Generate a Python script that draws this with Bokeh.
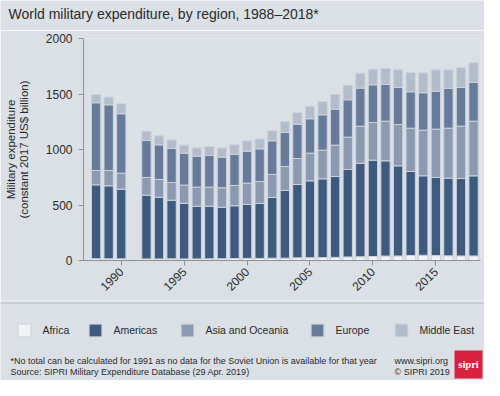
import math
from bokeh.plotting import figure
from bokeh.layouts import column
from bokeh.models import (ColumnDataSource, Range1d, FixedTicker, Label, Legend, LegendItem,
                          BoxAnnotation)
from bokeh.embed import file_html
from bokeh.resources import INLINE

# ---------------- data (constant 2017 US$ billion) ----------------
years = [1988, 1989, 1990, 1992, 1993, 1994, 1995, 1996, 1997, 1998, 1999, 2000, 2001, 2002,
         2003, 2004, 2005, 2006, 2007, 2008, 2009, 2010, 2011, 2012, 2013, 2014, 2015, 2016,
         2017, 2018]
africa = [16, 15, 15, 14, 14, 15, 14, 14, 15, 16, 18, 19, 19, 21, 21, 24, 25, 26, 28, 32, 34,
          36, 40, 41, 45, 47, 44, 42, 41, 41]
americas = [666, 658, 628, 574, 556, 528, 502, 475, 474, 464, 475, 486, 495, 547, 610, 661, 693,
            710, 729, 788, 843, 868, 858, 812, 757, 716, 704, 700, 698, 722]
asia_oceania = [129, 138, 144, 160, 160, 160, 163, 172, 172, 175, 183, 192, 198, 207, 216, 234,
                249, 258, 282, 291, 333, 339, 357, 372, 390, 411, 435, 450, 471, 492]
europe = [610, 592, 535, 333, 312, 306, 288, 279, 285, 276, 282, 288, 294, 303, 306, 309, 310,
          318, 324, 337, 343, 340, 331, 334, 328, 337, 340, 358, 349, 349]
middle_east = [75, 69, 93, 84, 81, 78, 72, 75, 81, 84, 84, 93, 90, 90, 99, 105, 113, 120, 133,
               131, 135, 141, 144, 159, 174, 180, 195, 168, 180, 177]

regions = ["africa", "americas", "asia_oceania", "europe", "middle_east"]
region_labels = ["Africa", "Americas", "Asia and Oceania", "Europe", "Middle East"]
colors = ["#f1f3f6", "#3e5a7e", "#8a9ab0", "#667b9a", "#b3bcca"]
x_ticks = [1990, 1995, 2000, 2005, 2010, 2015]
y_ticks = [0, 500, 1000, 1500, 2000]

source = ColumnDataSource(dict(year=years, africa=africa, americas=americas,
                               asia_oceania=asia_oceania, europe=europe,
                               middle_east=middle_east))

BG = "#dbe0e7"
FONT = "Liberation Sans"
TXT = "#2a2a2a"
W = 484


def panel(y0, y1):
    """A strip whose frame fills the canvas; data coords = page pixels."""
    f = figure(width=W, height=y1 - y0, output_backend="svg", toolbar_location=None,
               x_axis_type=None, y_axis_type=None,
               x_range=Range1d(0, W), y_range=Range1d(y1, y0),
               min_border=0, min_border_left=0, min_border_right=0,
               min_border_top=0, min_border_bottom=0, frame_align=False)
    f.grid.visible = False
    f.background_fill_color = BG
    f.border_fill_color = BG
    f.outline_line_color = None
    return f


# ---------------- title strip (y 0..30) ----------------
top = panel(0, 30)
top.add_layout(Label(x=8, y=13, text="World military expenditure, by region, 1988\u20132018*",
                     text_font=FONT, text_font_size="14px", text_color=TXT,
                     text_baseline="middle"))

# ---------------- main chart (y 30..300) ----------------
p = figure(width=W, height=270, output_backend="svg", toolbar_location=None,
           x_range=Range1d(1987.0, 2018.55), y_range=Range1d(0, 2000),
           min_border_left=83, min_border_right=4, min_border_top=8, min_border_bottom=40,
           frame_align=False)
p.background_fill_color = BG
p.border_fill_color = BG
p.outline_line_color = None
p.grid.visible = False

renderers = p.vbar_stack(regions, x="year", width=0.74, source=source, color=colors,
                         line_color="#ccd3dc", line_width=1)

for ax in (p.xaxis[0], p.yaxis[0]):
    ax.axis_line_color = "#8c929a"
    ax.major_tick_line_color = "#8c929a"
    ax.minor_tick_line_color = None
    ax.major_tick_out = 5
    ax.major_tick_in = 0
    ax.major_label_text_font = FONT
    ax.major_label_text_font_size = "12px"
    ax.major_label_text_color = TXT
p.xaxis.ticker = FixedTicker(ticks=x_ticks)
p.yaxis.ticker = FixedTicker(ticks=y_ticks)
p.xaxis.major_label_orientation = math.pi / 4
p.yaxis.major_label_standoff = 6
p.xaxis.major_label_standoff = 4
p.yaxis.axis_label = "Military expenditure\n(constant 2017 US$ billion)"
p.yaxis.axis_label_text_font = FONT
p.yaxis.axis_label_text_font_size = "11.5px"
p.yaxis.axis_label_text_font_style = "normal"
p.yaxis.axis_label_text_color = TXT
p.yaxis.axis_label_text_line_height = 1.1
p.yaxis.axis_label_standoff = 13

# ---------------- legend + footer (y 300..380) ----------------
bot = panel(300, 380)
bot.add_layout(BoxAnnotation(left=0, right=W, top=302, bottom=303.2, fill_color="#bcc3cc",
                             fill_alpha=1, line_color=None))

# legend proxies: same data, but they fall outside this strip's pixel ranges
leg_x = [18, 89, 181, 311, 395]
for reg, col, lab, lx in zip(regions, colors, region_labels, leg_x):
    r = bot.vbar(x="year", top=reg, width=0.7, source=source,
                 fill_color=col, line_color="#ccd3dc", line_width=1)
    lg = Legend(items=[LegendItem(label=lab, renderers=[r])],
                location=(lx - 1.6, 380 - 338),
                orientation="horizontal", glyph_width=16, glyph_height=16,
                label_standoff=10, padding=0, margin=0, border_line_color=None,
                background_fill_alpha=0, label_text_font=FONT,
                label_text_font_size="10.5px", label_text_color=TXT,
                label_height=16)
    bot.add_layout(lg, "center")


def foot(text, x, y, size="9px", color=TXT, align="left", style="normal",
         font=FONT):
    bot.add_layout(Label(x=x, y=y, text=text, text_font=font, text_font_size=size,
                         text_color=color, text_align=align, text_baseline="middle",
                         text_font_style=style))


foot("*No total can be calculated for 1991 as no data for the Soviet Union is available "
     "for that year", 10, 360)
foot("Source: SIPRI Military Expenditure Database (29 Apr. 2019)", 10, 371.5)
foot("www.sipri.org", 394, 360)
foot("\u00a9 SIPRI 2019", 394, 371.5)

bot.add_layout(BoxAnnotation(left=454, right=482, top=350, bottom=378, fill_color="#d8213f",
                             fill_alpha=1, line_color=None))
foot("sipri", 468, 364, size="10.5px", color="white", align="center", style="bold",
     font="Liberation Serif")

layout = column(top, p, bot, spacing=0)
open("out.html", "w").write(file_html(layout, INLINE))
